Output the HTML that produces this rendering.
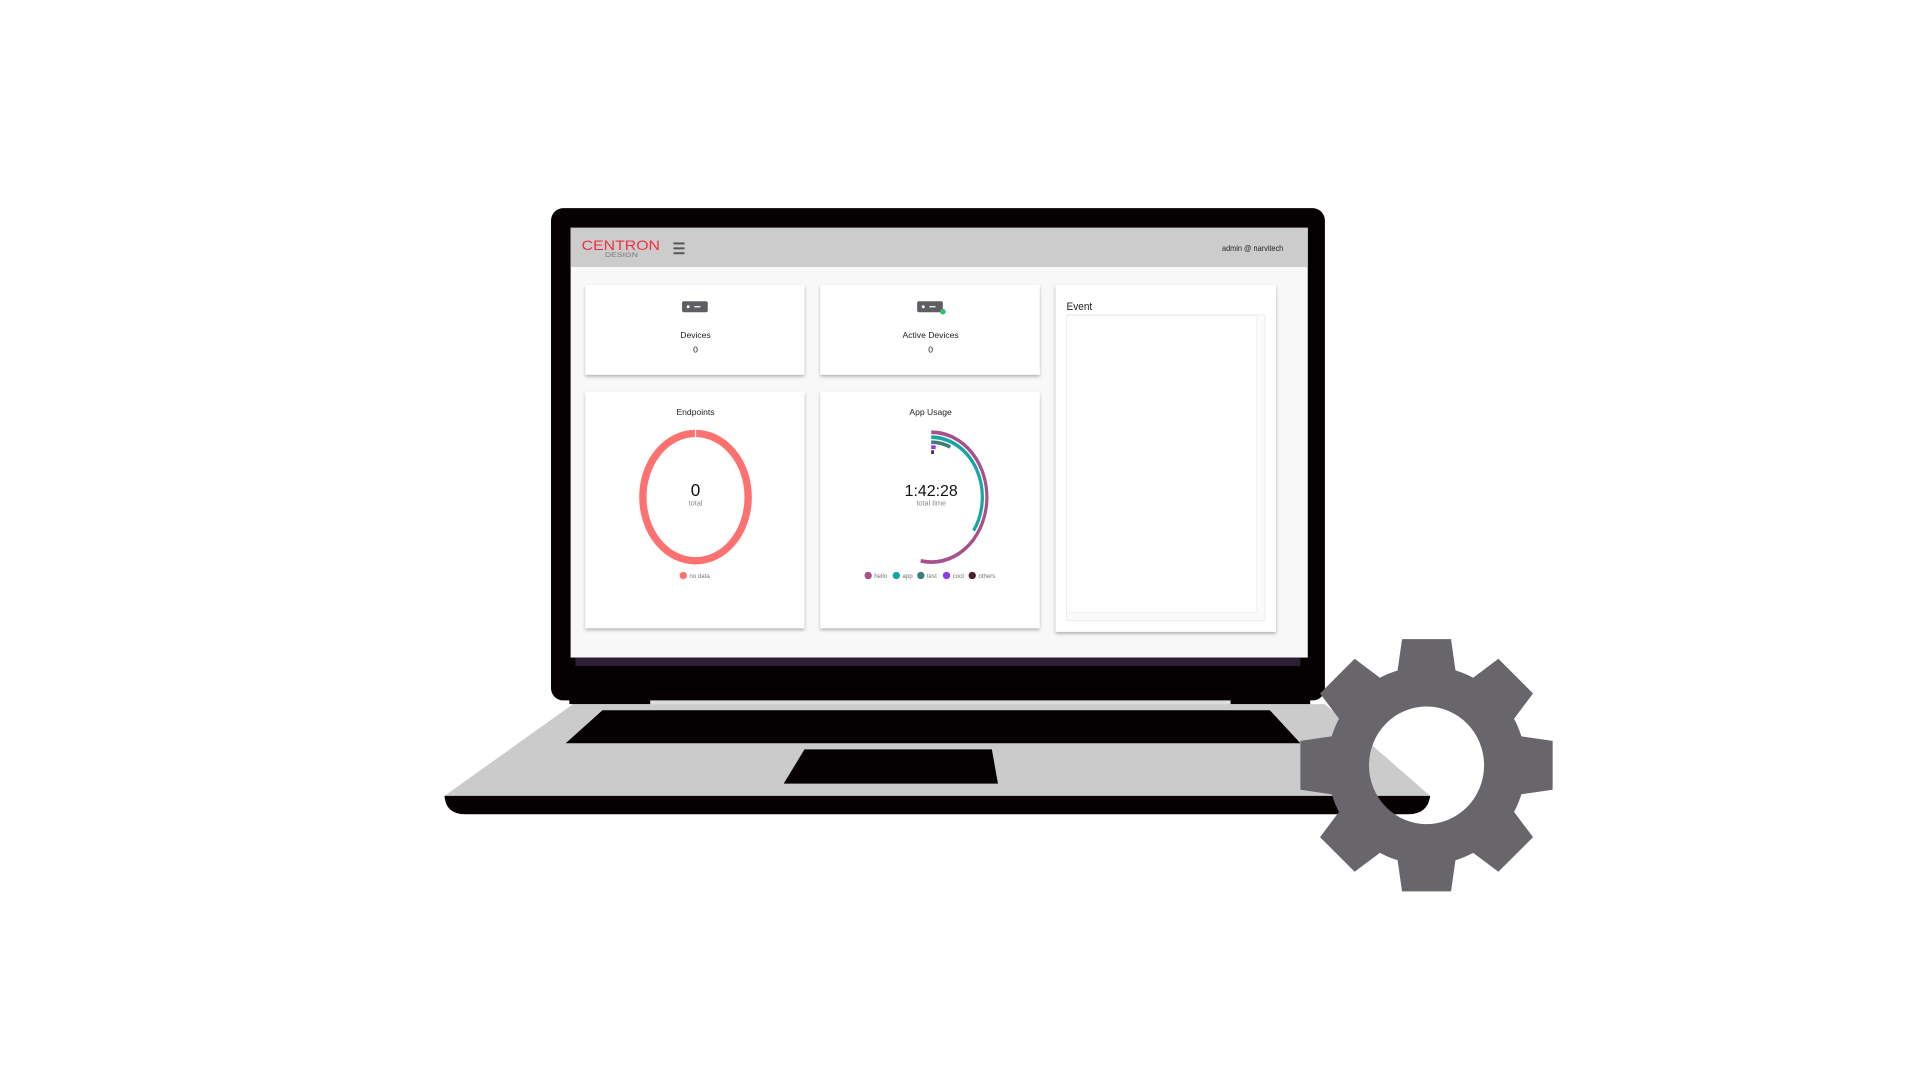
<!DOCTYPE html>
<html><head><meta charset="utf-8"><style>
html,body{margin:0;padding:0;background:#fff;width:1920px;height:1080px;overflow:hidden}
svg{display:block}
text{font-family:"Liberation Sans",sans-serif}
</style></head><body>
<svg width="1920" height="1080" viewBox="0 0 1568 882" xmlns="http://www.w3.org/2000/svg">
<defs>
<filter id="sh" x="-10%" y="-10%" width="120%" height="130%"><feDropShadow dx="0" dy="1.5" stdDeviation="1.2" flood-color="#000" flood-opacity="0.3"/></filter>
<filter id="bl"><feGaussianBlur stdDeviation="0.8"/></filter>
<mask id="gm">
<g fill="#fff">
<circle cx="1165" cy="625" r="81"/>
<g id="tooth"><polygon points="1141,550 1145,522 1185,522 1189,550"/></g>
<use href="#tooth" transform="rotate(45 1165 625)"/>
<use href="#tooth" transform="rotate(90 1165 625)"/>
<use href="#tooth" transform="rotate(135 1165 625)"/>
<use href="#tooth" transform="rotate(180 1165 625)"/>
<use href="#tooth" transform="rotate(225 1165 625)"/>
<use href="#tooth" transform="rotate(270 1165 625)"/>
<use href="#tooth" transform="rotate(315 1165 625)"/>
</g>
<ellipse cx="1165" cy="625" rx="47" ry="48" fill="#000"/>
</mask>
</defs>
<rect width="1568" height="882" fill="#fff"/>

<!-- base -->
<polygon points="468,575 1082,575 1168,650 363,650" fill="#cbcbcb"/>
<path d="M363,650 L1168,650 Q1166,665 1150,665 L380,665 Q364,665 363,650 Z" fill="#050102"/>
<polygon points="492,580 1037,580 1062,607 462,607" fill="#050102"/>
<polygon points="657,612 810,612 815,640 640,640" fill="#050102"/>
<rect x="531" y="570" width="474" height="5" fill="#dcdcdc"/>
<rect x="465" y="563" width="66" height="12" fill="#050102"/>
<rect x="1005" y="563" width="65" height="12" fill="#050102"/>

<!-- lid -->
<rect x="450" y="170" width="632" height="402" rx="10" fill="#050102"/>
<rect x="466" y="186" width="602" height="351" fill="#f8f8f8"/>
<rect x="466" y="186" width="602" height="32" fill="#cccccc"/>
<rect x="470" y="537" width="592" height="7" fill="#2d1f33"/>

<!-- header -->
<text x="475" y="204" font-size="11" fill="#f0303e" textLength="64" lengthAdjust="spacingAndGlyphs">CENTRON</text>
<text x="494" y="210" font-size="5" fill="#777" textLength="27" lengthAdjust="spacingAndGlyphs">DESIGN</text>
<rect x="550" y="198" width="9" height="1.6" fill="#555"/>
<rect x="550" y="202" width="9" height="1.6" fill="#555"/>
<rect x="550" y="206" width="9" height="1.6" fill="#555"/>
<text x="1048" y="205" font-size="6.5" fill="#222" text-anchor="end" textLength="50" lengthAdjust="spacingAndGlyphs">admin @ narvitech</text>

<!-- cards -->
<g fill="#fff" filter="url(#sh)">
<rect x="478" y="233" width="179" height="73"/>
<rect x="670" y="233" width="179" height="73"/>
<rect x="478" y="320" width="179" height="193"/>
<rect x="670" y="320" width="179" height="193"/>
<rect x="862" y="233" width="180" height="283"/>
</g>
<rect x="871" y="257" width="162" height="250" fill="#fafafa" stroke="#eee" stroke-width="0.8"/>
<rect x="871" y="258" width="155" height="242" fill="#fff" stroke="#eee" stroke-width="0.6"/>
<text x="871" y="253" font-size="9" fill="#222" textLength="21" lengthAdjust="spacingAndGlyphs">Event</text>

<!-- devices -->
<rect x="557" y="246" width="21" height="9" rx="1.5" fill="#5f5f63"/>
<circle cx="562" cy="250.5" r="1.2" fill="#fff"/><rect x="567" y="250" width="5" height="1" fill="#fff"/>
<text x="568" y="276" font-size="7" fill="#222" text-anchor="middle">Devices</text>
<text x="568" y="288" font-size="7" fill="#222" text-anchor="middle">0</text>

<rect x="749" y="246" width="21" height="9" rx="1.5" fill="#5f5f63"/>
<circle cx="754" cy="250.5" r="1.2" fill="#fff"/><rect x="759" y="250" width="5" height="1" fill="#fff"/>
<circle cx="770" cy="254.5" r="2.3" fill="#2ec06a"/>
<text x="760" y="276" font-size="7" fill="#222" text-anchor="middle">Active Devices</text>
<text x="760" y="288" font-size="7" fill="#222" text-anchor="middle">0</text>

<!-- endpoints -->
<text x="568" y="339" font-size="7" fill="#222" text-anchor="middle">Endpoints</text>
<ellipse cx="568" cy="406" rx="43" ry="52" fill="none" stroke="#fd7171" stroke-width="6"/>
<rect x="567.5" y="350" width="1" height="8" fill="#fff"/>
<text x="568" y="405" font-size="14" fill="#111" text-anchor="middle">0</text>
<text x="568" y="413" font-size="6" fill="#888" text-anchor="middle">total</text>
<circle cx="558" cy="470" r="3" fill="#fd7171"/>
<text x="563" y="472" font-size="5" fill="#777">no data</text>

<!-- app usage -->
<text x="760" y="339" font-size="7" fill="#222" text-anchor="middle">App Usage</text>
<g fill="none" stroke-width="3" transform="translate(760.5,406) scale(0.87,1.02) translate(-760.5,-406)">
<path d="M760.5,354 A52,52 0 1 1 750.6,457" stroke="#a8508a"/>
<path d="M760.5,358 A48,48 0 0 1 800.3,432.8" stroke="#17a5a8"/>
<path d="M760.5,362 A44,44 0 0 1 778.4,365.8" stroke="#3e7b7b"/>
<path d="M760.5,366 A40,40 0 0 1 764.7,366.2" stroke="#8b3cf0"/>
<path d="M760.5,370 A36,36 0 0 1 763,370.1" stroke="#4d1f2a"/>
</g>
<text x="760.5" y="405" font-size="13" fill="#111" text-anchor="middle">1:42:28</text>
<text x="760.5" y="413" font-size="6" fill="#888" text-anchor="middle">total time</text>
<g font-size="5" fill="#777">
<circle cx="709" cy="470" r="3" fill="#a8508a"/><text x="714" y="472">hello</text>
<circle cx="732" cy="470" r="3" fill="#17a5a8"/><text x="737" y="472">app</text>
<circle cx="752" cy="470" r="3" fill="#3e7b7b"/><text x="757" y="472">test</text>
<circle cx="773" cy="470" r="3" fill="#8b3cf0"/><text x="778" y="472">cool</text>
<circle cx="794" cy="470" r="3" fill="#4d1f2a"/><text x="799" y="472">others</text>
</g>

<!-- gear -->
<rect x="1050" y="510" width="230" height="230" fill="#67666b" mask="url(#gm)" filter="url(#bl)"/>
</svg>
</body></html>
